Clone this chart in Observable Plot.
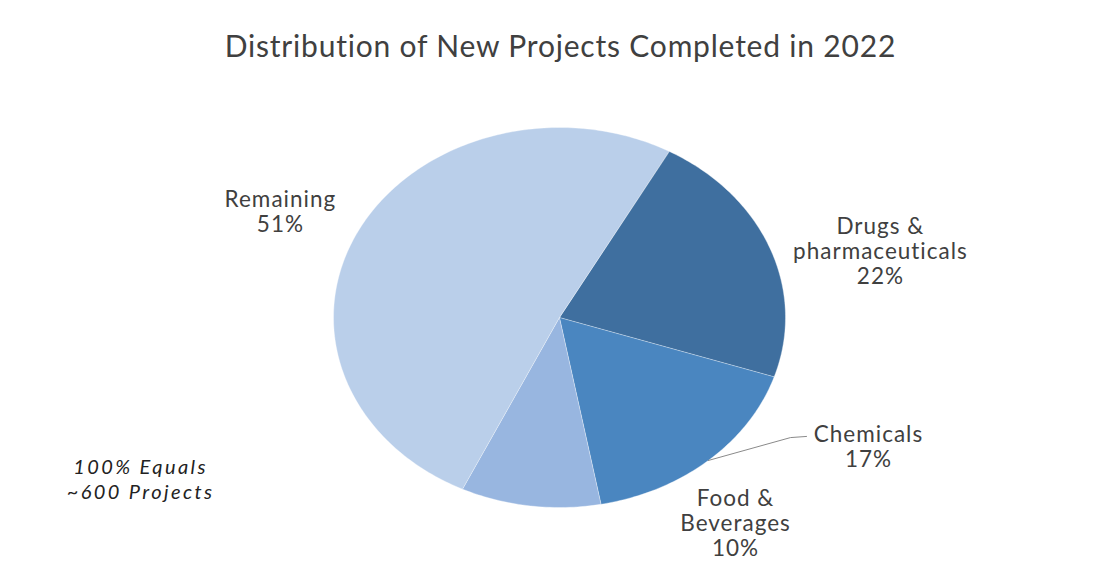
<!DOCTYPE html>
<html>
<head>
<meta charset="utf-8">
<script src="https://cdn.jsdelivr.net/npm/d3@7"></script>
<script src="https://cdn.jsdelivr.net/npm/@observablehq/plot@0.6"></script>
<style>
  html, body { margin: 0; padding: 0; background: #ffffff; }
  #chart svg { display: block; }
  #chart .lbl text { letter-spacing: 1px; }
  #chart .ttl text { letter-spacing: 0.8px; }
  #chart .note text { letter-spacing: 2.4px; }
</style>
</head>
<body>
<div id="chart"></div>
<script>
// ---- data ----
const categories = ["Drugs & pharmaceuticals", "Chemicals", "Food & Beverages", "Remaining"];
const shares = [22, 17, 10, 51];
const labelLines = [["Drugs &", "pharmaceuticals", "22%"], ["Chemicals", "17%"], ["Food &", "Beverages", "10%"], ["Remaining", "51%"]];
const colors = ["#3f6f9f", "#4a86c0", "#98b6e0", "#bacfea"];
const titleText = "Distribution of New Projects Completed in 2022";
const noteText = "100% Equals\n~600 Projects";

// ---- layout (pie space: unit circle, y up) ----
const startDeg = 29;
const labelPos = [[1.42, 0.35], [1.367, -0.68], [0.779, -1.08], [-1.235, 0.56]];

const pie = d3.pie().sort(null).value(d => d.share)
  .startAngle(startDeg * Math.PI / 180).endAngle((startDeg + 360) * Math.PI / 180);
const rows = categories.map((c, i) => ({category: c, share: shares[i]}));
const arcs = pie(rows);

const pts = [];
arcs.forEach(a => {
  const c = a.data.category;
  pts.push({category: c, x: 0, y: 0});
  const n = Math.max(2, Math.ceil((a.endAngle - a.startAngle) * 180 / Math.PI));
  for (let k = 0; k <= n; k++) {
    const t = a.startAngle + (a.endAngle - a.startAngle) * k / n;
    pts.push({category: c, x: Math.sin(t), y: Math.cos(t)});
  }
});

const labels = arcs.map((a, i) => ({
  text: labelLines[i].join("\n"),
  x: labelPos[i][0], y: labelPos[i][1]
}));

// leader line for Chemicals, from the slice's mid angle on the rim
const chem = arcs[1];
const mid = (chem.startAngle + chem.endAngle) / 2;
const leader = [
  {x: Math.sin(mid), y: Math.cos(mid)},
  {x: 1.022, y: -0.632},
  {x: 1.093, y: -0.626}
];

const chart = Plot.plot({
  width: 1096,
  height: 563,
  margin: 0,
  x: {domain: [-1, 1], range: [333, 785], axis: null},
  y: {domain: [-1, 1], range: [507, 127], axis: null},
  color: {type: "ordinal", domain: categories, range: colors},
  style: {fontFamily: "Lato, 'Open Sans', sans-serif", background: "#ffffff"},
  marks: [
    Plot.line(pts, {x: "x", y: "y", z: "category", fill: "category", stroke: "#ffffff", strokeWidth: 0.6, strokeOpacity: 0.6, curve: "linear-closed"}),
    Plot.line(leader, {x: "x", y: "y", stroke: "#8a8a8a", strokeWidth: 1}),
    Plot.text(labels, {x: "x", y: "y", text: "text", fontSize: 22.5, lineHeight: 1.11, fill: "#404040", textAnchor: "middle", className: "lbl"}),
    Plot.text([titleText], {x: 0.004, y: 1.42, text: d => d, fontSize: 30, fill: "#404040", textAnchor: "middle", className: "ttl"}),
    Plot.text([noteText], {x: -1.854, y: -0.847, text: d => d, fontSize: 20, fontStyle: "italic", fill: "#222222", lineHeight: 1.25, textAnchor: "middle", className: "note"})
  ]
});
document.getElementById("chart").appendChild(chart);
</script>
</body>
</html>
